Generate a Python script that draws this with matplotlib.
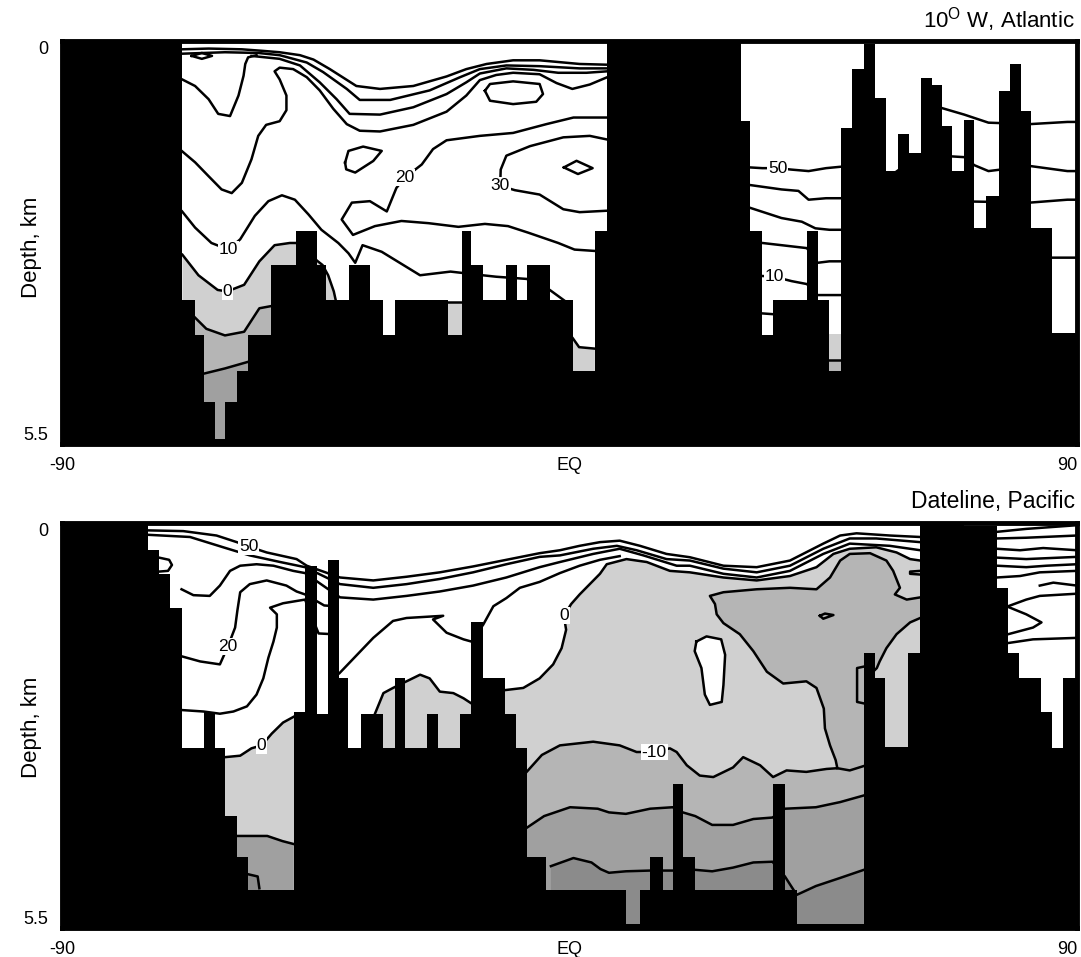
import matplotlib
matplotlib.use("Agg")
import matplotlib.pyplot as plt

plt.rcParams['font.family'] = ['Liberation Sans', 'DejaVu Sans']
plt.rcParams['mathtext.fontset'] = 'custom'
plt.rcParams['mathtext.rm'] = 'Liberation Sans'

# ---------------- 10 W, Atlantic ----------------
# sea floor (top of the black) as steps: edges in degrees latitude, depth in km
atl_edges = [-90, -68.65, -66.5, -64.8, -62.8, -61.1, -59.0, -57.0, -52.9, -48.5,
             -44.8, -43.1, -39.1, -35.4, -33.0, -31.0, -21.5, -19.1, -17.4, -15.4,
             -11.3, -9.3, -7.6, -3.5, 0.6, 4.5, 6.7, 30.5, 32.0, 34.2, 36.0, 42.1,
             44.0, 46.1, 48.2, 50.1, 52.2, 54.1, 56.2, 58.3, 60.2, 62.3, 64.2, 66.0,
             67.8, 70.0, 71.8, 73.9, 76.1, 78.2, 80.0, 81.9, 85.5, 90]
atl_floor = [0, 3.54, 4.02, 4.93, 5.43, 4.93, 4.50, 4.02, 3.06, 2.60,
             3.06, 3.54, 3.06, 3.54, 4.02, 3.54, 4.02, 2.60, 3.06, 3.54,
             3.06, 3.54, 3.06, 3.54, 4.50, 2.60, 0, 1.10, 2.60, 4.02, 3.54,
             2.60, 3.54, 4.50, 1.19, 0.39, 0.05, 0.78, 1.78, 1.28, 1.53, 0.51,
             0.60, 1.17, 1.78, 1.08, 2.56, 2.12, 0.69, 0.32, 0.96, 2.56, 3.99]

atl_s1 = [(-68.7, 0.12), (-64.0, 0.11), (-58.1, 0.12), (-54.6, 0.14), (-51.4, 0.16),
          (-47.8, 0.20), (-45.4, 0.26), (-42.5, 0.39), (-37.8, 0.62), (-33.6, 0.66),
          (-27.7, 0.62), (-21.8, 0.49), (-18.3, 0.39), (-14.7, 0.32), (-10.0, 0.27),
          (-5.3, 0.27), (1.8, 0.32), (6.7, 0.33)]
atl_s2 = [(-68.7, 0.18), (-61.1, 0.16), (-55.2, 0.17), (-51.4, 0.20), (-46.6, 0.30),
          (-43.7, 0.43), (-39.5, 0.66), (-37.2, 0.81), (-31.8, 0.81), (-24.8, 0.68),
          (-19.4, 0.50), (-15.9, 0.39), (-11.2, 0.34), (-5.3, 0.35), (1.8, 0.38), (6.7, 0.38)]
atl_s3 = [(-56.4, 0.21), (-51.4, 0.25), (-47.8, 0.34), (-44.3, 0.57), (-41.3, 0.80),
          (-39.0, 1.00), (-33.6, 1.01), (-27.7, 0.91), (-21.8, 0.73), (-18.3, 0.57),
          (-15.9, 0.45), (-11.2, 0.38), (-6.4, 0.40), (-2.0, 0.44), (3.0, 0.44), (6.7, 0.42)]
atl_d = [(-68.7, 1.51), (-66.4, 1.66), (-64.0, 1.85), (-61.7, 2.03), (-59.9, 2.08),
         (-58.1, 1.94), (-56.4, 1.62), (-55.2, 1.30), (-53.8, 1.15), (-51.4, 1.10),
         (-50.2, 0.95), (-50.2, 0.75), (-51.4, 0.53), (-52.3, 0.42), (-51.4, 0.37),
         (-49.0, 0.39), (-46.6, 0.50), (-44.3, 0.68), (-41.9, 0.93), (-39.5, 1.14),
         (-37.2, 1.23), (-33.6, 1.24), (-27.7, 1.15), (-21.8, 0.97), (-18.3, 0.75),
         (-15.9, 0.54), (-13.0, 0.47), (-10.0, 0.44), (-5.3, 0.46), (-2.3, 0.58),
         (0.5, 0.66), (3.6, 0.60), (6.7, 0.50)]
atl_v1 = [(-68.7, 0.53), (-66.4, 0.62), (-64.0, 0.80), (-62.3, 1.00), (-60.2, 1.03),
          (-58.7, 0.75), (-57.8, 0.48), (-57.5, 0.32), (-57.0, 0.23), (-55.5, 0.20)]
atl_loop_a = [(-67.0, 0.21), (-65.2, 0.17), (-63.4, 0.21), (-65.2, 0.25), (-67.0, 0.21)]
atl_loop_b = [(-15.0, 0.685), (-14.1, 0.593), (-10.0, 0.557), (-5.3, 0.593), (-4.7, 0.73),
              (-5.9, 0.835), (-10.0, 0.867), (-14.1, 0.821), (-15.0, 0.685)]
atl_loop_c = [(-39.8, 1.665), (-39.2, 1.505), (-36.6, 1.446), (-33.3, 1.505), (-34.8, 1.642),
              (-38.0, 1.80), (-39.6, 1.756), (-39.8, 1.665)]
atl_loop_d = [(-1.0, 1.73), (1.25, 1.64), (4.1, 1.74), (1.5, 1.82), (-1.0, 1.73)]
atl_c20 = [(6.7, 1.05), (0.7, 1.05), (-4.1, 1.14), (-10.0, 1.26), (-15.9, 1.30),
           (-21.8, 1.36), (-24.2, 1.48), (-26.2, 1.69), (-29.2, 1.87), (-30.7, 2.01),
           (-32.4, 2.33), (-35.4, 2.19), (-38.6, 2.21), (-40.4, 2.44), (-38.4, 2.65),
           (-34.5, 2.53), (-29.8, 2.46), (-25.0, 2.49), (-19.7, 2.54), (-15.0, 2.50),
           (-10.9, 2.53), (-7.3, 2.62), (-2.0, 2.76), (0.9, 2.85), (6.7, 2.88)]
atl_c30 = [(6.7, 1.35), (3.6, 1.30), (-1.1, 1.32), (-7.0, 1.44), (-11.2, 1.57),
           (-12.2, 1.76), (-12.3, 1.98), (-9.7, 2.04), (-5.3, 2.10), (-1.1, 2.30),
           (1.8, 2.34), (6.7, 2.32)]
atl_c10 = [(-68.7, 2.33), (-66.4, 2.55), (-63.5, 2.76), (-60.5, 2.85), (-58.4, 2.71),
           (-55.8, 2.39), (-53.4, 2.19), (-51.0, 2.11), (-48.7, 2.17), (-46.3, 2.37),
           (-44.0, 2.58), (-41.0, 2.76), (-39.2, 2.90), (-38.0, 3.03), (-36.7, 2.79),
           (-33.3, 2.88), (-26.5, 3.20), (-21.1, 3.15), (-15.4, 3.20), (-13.0, 3.22),
           (-7.6, 3.25), (-3.5, 3.40), (-1.0, 3.54)]
atl_c0 = [(-68.65, 2.92), (-65.8, 3.20), (-62.4, 3.40), (-60.7, 3.42), (-57.7, 3.33),
          (-55.0, 3.01), (-52.3, 2.79), (-49.6, 2.76), (-48.5, 2.76), (-46.5, 2.85),
          (-44.8, 3.00), (-43.8, 3.06), (-42.8, 3.20), (-41.8, 3.42), (-41.4, 3.56)]
atl_cm10 = [(-66.5, 3.77), (-64.4, 3.93), (-61.1, 4.02), (-57.7, 3.97), (-55.0, 3.65),
            (-53.6, 3.63), (-52.9, 3.62)]
atl_cm20 = [(-64.8, 4.54), (-61.1, 4.47), (-57.0, 4.38)]
atl_p1 = [(-21.5, 3.56), (-19.1, 3.56)]
atl_p2 = [(0.6, 4.06), (1.7, 4.18), (4.5, 4.20)]
atl_p3 = [(46.1, 4.00), (48.2, 4.00)]
atl_p3b = [(46.1, 4.35), (48.2, 4.35)]
# north of Africa
atl_n1 = [(64.0, 0.88), (66.0, 0.92), (70.0, 1.01), (74.3, 1.12), (81.6, 1.14), (88.3, 1.11), (90, 1.11)]
atl_c50 = [(32.0, 1.73), (34.2, 1.74), (36.9, 1.74), (39.4, 1.76), (42.4, 1.78), (45.5, 1.74),
           (48.2, 1.72), (57.0, 1.84), (61.0, 1.62), (67.8, 1.58), (70.0, 1.59), (71.8, 1.70),
           (74.3, 1.78), (81.6, 1.71), (88.3, 1.78), (90, 1.78)]
atl_n3 = [(32.0, 1.97), (37.6, 2.03), (40.6, 2.05), (42.4, 2.17), (45.5, 2.15), (48.2, 2.15),
          (60.0, 2.18), (75.0, 2.20), (81.6, 2.21), (88.3, 2.17), (90, 2.17)]
atl_n4 = [(32.0, 2.28), (37.6, 2.42), (41.2, 2.47), (43.6, 2.56), (46.1, 2.58), (48.2, 2.58),
          (60.0, 2.70), (80.0, 2.85), (85.5, 2.96), (90, 2.96)]
atl_n5 = [(34.2, 2.76), (37.6, 2.79), (42.1, 2.83), (44.0, 3.03), (46.1, 3.01), (48.2, 3.01)]
atl_c10n = [(34.2, 3.21), (36.3, 3.22), (39.4, 3.28), (42.1, 3.32), (44.0, 3.47), (48.2, 3.47)]
atl_n6 = [(34.2, 3.72), (36.0, 3.73)]

atl_labels = [("10", -60.5, 2.85), ("0", -60.7, 3.42), ("20", -29.2, 1.87),
              ("30", -12.3, 1.98), ("50", 36.9, 1.74), ("10", 36.3, 3.22)]

# ---------------- Dateline, Pacific ----------------
pac_edges = [-90, -74.8, -72.8, -70.9, -68.8, -64.8, -62.8, -61.1, -59.0, -57.0,
             -48.9, -46.9, -44.8, -42.9, -40.8, -39.2, -36.9, -33.0, -31.0, -29.2,
             -25.3, -23.3, -19.4, -17.4, -15.3, -11.5, -9.4, -7.6, -4.2, 10.0,
             12.5, 14.3, 16.5, 18.3, 20.1, 22.3, 36.0, 38.2, 40.3, 52.2,
             54.1, 55.9, 60.0, 62.2, 69.9, 75.8, 77.8, 79.8, 83.7, 85.5, 87.6, 90]
pac_floor = [0, 0.37, 0.69, 1.15, 3.06, 2.56, 3.06, 3.98, 4.53, 4.98,
             2.56, 0.58, 2.59, 0.50, 2.11, 3.06, 2.59, 3.06, 2.11, 3.06,
             2.59, 3.06, 2.59, 1.35, 2.11, 2.59, 3.06, 4.53, 4.98, 5.45,
             4.98, 4.53, 4.98, 3.54, 4.53, 4.98, 3.54, 4.98, 5.45, 1.76,
             2.11, 3.04, 1.76, 0, 0.04, 0.88, 1.76, 2.11, 2.56, 3.06, 2.11]

pac_c50 = [(-74.8, 0.10), (-68.5, 0.11), (-62.6, 0.17), (-59.0, 0.26), (-56.9, 0.32),
           (-53.7, 0.40), (-48.4, 0.49), (-46.6, 0.58), (-40.7, 0.74), (-34.8, 0.78),
           (-28.9, 0.73), (-23.0, 0.67), (-17.1, 0.59), (-11.2, 0.50), (-5.3, 0.41),
           (-1.7, 0.37), (1.8, 0.31), (5.4, 0.26), (8.9, 0.24), (12.5, 0.31), (17.2, 0.42),
           (21.35, 0.465), (27.3, 0.58), (33.2, 0.60), (39.1, 0.51), (45.0, 0.28),
           (48.0, 0.17), (50.9, 0.14), (56.8, 0.17), (62.2, 0.19)]
pac_b2 = [(-74.8, 0.16), (-67.3, 0.19), (-61.4, 0.33), (-56.7, 0.44), (-51.3, 0.53),
          (-46.9, 0.60), (-40.7, 0.83), (-34.8, 0.88), (-28.9, 0.83), (-23.0, 0.76),
          (-17.1, 0.67), (-11.2, 0.56), (-5.3, 0.46), (-1.7, 0.44), (4.2, 0.35),
          (8.4, 0.31), (11.9, 0.37), (17.2, 0.49), (21.35, 0.51), (27.3, 0.62),
          (33.2, 0.67), (39.1, 0.58), (45.0, 0.35), (49.7, 0.21), (54.4, 0.21), (62.2, 0.26)]
pac_b3 = [(-68.8, 0.90), (-66.7, 0.98), (-63.8, 0.99), (-62.0, 0.85), (-60.2, 0.65),
          (-58.4, 0.58), (-55.5, 0.56), (-52.5, 0.58), (-49.0, 0.65), (-46.9, 0.68),
          (-40.7, 1.01), (-34.8, 1.04), (-28.9, 0.99), (-23.0, 0.93), (-17.1, 0.85),
          (-11.2, 0.74), (-5.3, 0.60), (-1.7, 0.53), (4.2, 0.42), (8.9, 0.35),
          (13.1, 0.44), (19.0, 0.58), (21.35, 0.58), (27.3, 0.69), (33.2, 0.74),
          (39.1, 0.65), (45.0, 0.42), (49.7, 0.28), (56.8, 0.31), (62.2, 0.37)]
pac_bump = [(-72.8, 0.47), (-71.0, 0.50), (-70.5, 0.57), (-71.2, 0.65), (-72.8, 0.66)]
pac_c20 = [(-68.8, 1.81), (-65.5, 1.88), (-62.0, 1.92), (-60.6, 1.68), (-59.3, 1.42),
           (-58.9, 1.19), (-58.4, 0.94), (-56.7, 0.83), (-53.7, 0.78), (-50.2, 0.85),
           (-48.4, 0.93), (-46.9, 0.97), (-43.5, 1.12), (-41.5, 1.13)]
pac_d = [(-68.8, 2.54), (-64.9, 2.56), (-62.0, 2.59), (-59.6, 2.56), (-57.2, 2.49),
         (-55.5, 2.33), (-54.3, 2.11), (-53.4, 1.83), (-52.5, 1.61), (-51.9, 1.42),
         (-51.9, 1.24), (-53.1, 1.15), (-50.8, 1.09), (-46.9, 1.04), (-44.5, 1.50),
         (-42.0, 1.51)]
pac_e = [(-40.8, 2.04), (-37.8, 1.80), (-34.8, 1.56), (-31.3, 1.33), (-28.9, 1.29),
         (-22.4, 1.26), (-24.2, 1.31), (-21.8, 1.49), (-18.8, 1.58), (-17.4, 1.61),
         (-15.3, 1.38), (-13.5, 1.13), (-11.2, 1.02), (-8.8, 0.88), (-5.3, 0.80),
         (-1.7, 0.68), (1.8, 0.58), (5.4, 0.50), (8.9, 0.45)]
pac_c0a = [(-61.1, 3.18), (-58.4, 3.16), (-56.4, 3.06), (-54.6, 3.02), (-52.8, 2.86),
           (-50.8, 2.71), (-48.4, 2.61)]
pac_c0b = [(-34.5, 2.59), (-33.0, 2.31), (-31.3, 2.24), (-28.9, 2.15), (-26.5, 2.06),
           (-24.8, 2.11), (-23.0, 2.29), (-20.6, 2.31), (-18.8, 2.38), (-17.4, 2.45)]
pac_c0c = [(-11.5, 2.27), (-8.2, 2.24), (-5.3, 2.11), (-2.9, 1.92), (-1.4, 1.70),
           (-0.6, 1.45), (-1.0, 1.26), (0.3, 1.10), (1.8, 0.97), (3.6, 0.83), (5.4, 0.69),
           (6.6, 0.56), (10.1, 0.49), (13.7, 0.53), (17.8, 0.65), (21.35, 0.67),
           (27.3, 0.74), (33.2, 0.78), (39.1, 0.72), (43.8, 0.60), (46.8, 0.42),
           (49.7, 0.35), (54.4, 0.33), (58.0, 0.40), (60.4, 0.49), (62.2, 0.51)]
pac_cm10 = [(-7.6, 3.38), (-4.9, 3.15), (-1.7, 3.02), (4.2, 2.97), (8.9, 3.02),
            (11.9, 3.11), (15.0, 3.11), (17.8, 3.06), (19.0, 3.11), (20.8, 3.29),
            (23.1, 3.43), (25.5, 3.45), (29.0, 3.32), (30.8, 3.18), (33.8, 3.29),
            (36.1, 3.45), (38.5, 3.36), (42.0, 3.38), (45.6, 3.34), (47.5, 3.33),
            (49.7, 3.36), (52.2, 3.30)]
pac_v = [(47.5, 3.33), (47.2, 3.22), (46.2, 3.02), (45.3, 2.79), (45.1, 2.52),
         (43.8, 2.24), (42.0, 2.15), (37.9, 2.18), (35.0, 2.02), (32.6, 1.74),
         (30.2, 1.51), (27.3, 1.36), (26.1, 1.24), (25.8, 1.10), (24.9, 0.99),
         (27.3, 0.94), (33.2, 0.90), (39.1, 0.88), (43.8, 0.90), (46.2, 0.74),
         (48.0, 0.51), (49.7, 0.42), (53.3, 0.41), (56.2, 0.51), (57.4, 0.65),
         (58.6, 0.88), (57.7, 0.97), (59.8, 1.04), (62.2, 1.01)]
pac_vr = [(62.2, 1.29), (60.4, 1.35), (58.0, 1.51), (56.2, 1.70), (55.0, 1.88),
          (54.5, 1.97), (54.1, 2.00)]
pac_loop_w = [(22.5, 1.61), (24.3, 1.54), (26.9, 1.58), (27.6, 1.79), (27.3, 2.20),
              (27.0, 2.43), (24.9, 2.47), (24.0, 2.33), (23.4, 1.97), (22.2, 1.74), (22.5, 1.61)]
pac_loop_s = [(44.4, 1.26), (45.3, 1.23), (46.8, 1.25), (45.0, 1.30), (44.4, 1.26)]
pac_wall = [(62.2, 0.65), (60.4, 0.66), (60.4, 0.69), (62.2, 0.70)]
pac_gap = [(52.2, 1.95), (51.0, 1.97), (51.0, 2.43), (52.2, 2.45)]
pac_cm20a = [(-59.0, 4.25), (-53.6, 4.25), (-50.9, 4.32), (-48.9, 4.36)]
pac_cm20b = [(-7.6, 4.14), (-4.5, 3.98), (0.1, 3.86), (5.0, 3.88), (7.0, 3.93),
             (10.0, 3.95), (14.3, 3.88), (18.3, 3.86), (20.1, 3.93), (22.3, 3.98),
             (25.3, 4.10), (29.0, 4.10), (32.6, 4.02), (36.0, 4.00), (38.2, 3.88),
             (43.7, 3.86), (48.0, 3.79), (52.2, 3.70)]
pac_cm30a = [(-57.0, 4.77), (-55.3, 4.80), (-55.0, 4.96)]
pac_cm30b = [(-3.3, 4.66), (0.7, 4.55), (3.9, 4.61), (5.5, 4.70), (7.0, 4.75),
             (10.0, 4.73), (14.3, 4.72), (18.3, 4.72), (22.3, 4.71), (25.3, 4.73),
             (29.0, 4.68), (32.6, 4.61), (36.0, 4.60), (38.2, 4.80), (40.3, 5.05),
             (43.7, 4.93), (48.0, 4.82), (52.2, 4.71)]
# arctic side, north of the ridge
pac_a1 = [(75.8, 0.12), (81.0, 0.08), (90, 0.03)]
pac_a2 = [(75.8, 0.21), (81.0, 0.20), (90, 0.17)]
pac_a3 = [(75.8, 0.35), (79.9, 0.37), (84.0, 0.34), (90, 0.37)]
pac_a4 = [(75.8, 0.47), (81.0, 0.49), (90, 0.46)]
pac_a5 = [(75.8, 0.58), (81.0, 0.60), (84.6, 0.58), (90, 0.56)]
pac_a6 = [(75.8, 0.74), (79.9, 0.72), (83.4, 0.67), (90, 0.65)]
pac_a7 = [(83.4, 0.85), (85.8, 0.81), (90, 0.85)]
pac_a8 = [(77.8, 1.13), (81.0, 1.04), (83.4, 0.99), (90, 0.96)]
pac_a9 = [(77.8, 1.14), (81.0, 1.24), (83.7, 1.35), (82.2, 1.42), (77.8, 1.51)]
pac_a10 = [(77.8, 1.63), (82.2, 1.58), (90, 1.56)]

pac_labels = [("50", -56.9, 0.32), ("20", -60.6, 1.68), ("0", -54.6, 3.02),
              ("0", -1.0, 1.26), ("-10", 15.0, 3.11)]

BOTTOM = 5.5
LIGHT, MID, DARK, DARKER = '#d0d0d0', '#b5b5b5', '#a0a0a0', '#8b8b8b'


def line(ax, pts):
    x, y = zip(*pts)
    ax.plot(x, y, color='k', lw=1.8, solid_joinstyle='round', zorder=3)


def shade_below(ax, pts, color):
    poly = list(pts) + [(pts[-1][0], BOTTOM), (pts[0][0], BOTTOM)]
    x, y = zip(*poly)
    ax.fill(x, y, color=color, lw=0, zorder=1)


def setup(ax, edges, floor, labels):
    ax.stairs(floor, edges, baseline=BOTTOM, fill=True, color='k', zorder=4)
    ax.set_xlim(-90, 90)
    ax.set_ylim(BOTTOM, 0)
    ax.set_xticks([-90, 0, 90])
    ax.set_xticklabels(['-90', 'EQ', '90'])
    ax.set_yticks([0, BOTTOM])
    ax.set_yticklabels(['0', '5.5'])
    ax.tick_params(length=0, labelsize=13)
    ax.tick_params(axis='y', pad=10)
    ax.tick_params(axis='x', pad=9)
    ax.get_yticklabels()[0].set_va('top')
    ax.get_yticklabels()[1].set_va('bottom')
    ax.get_xticklabels()[2].set_ha('right')
    for sp in ax.spines.values():
        sp.set_linewidth(3.5)
        sp.set_zorder(6)
    for s, x, y in labels:
        ax.text(x, y, s, ha='center', va='center', fontsize=12.5, zorder=5,
                bbox=dict(boxstyle='square,pad=0.05', fc='white', ec='none'))


fig = plt.figure(figsize=(10.81, 9.57), dpi=100)
ax1 = fig.add_axes([62 / 1081, 1 - 444 / 957, 1015 / 1081, 403.5 / 957])
ax2 = fig.add_axes([62 / 1081, 1 - 928 / 957, 1015 / 1081, 405 / 957])

# Atlantic
for p in [atl_c0, atl_p1, atl_p2, atl_p3]:
    shade_below(ax1, p, LIGHT)
for p in [atl_cm10, atl_p3b]:
    shade_below(ax1, p, MID)
shade_below(ax1, atl_cm20, DARK)
for p in [atl_s1, atl_s2, atl_s3, atl_d, atl_v1, atl_loop_a, atl_loop_b, atl_loop_c,
          atl_loop_d, atl_c20, atl_c30, atl_c10, atl_c0, atl_cm10, atl_cm20,
          atl_p1, atl_p2, atl_p3b, atl_n1, atl_c50, atl_n3, atl_n4, atl_n5,
          atl_c10n, atl_n6]:
    line(ax1, p)
setup(ax1, atl_edges, atl_floor, atl_labels)

# Pacific
for p in [pac_c0a, pac_c0b, pac_c0c]:
    shade_below(ax2, p, LIGHT)
# the -10 region is bounded by the deep -10 line, the V and the branch at the ridge
upper = [q for q in pac_cm10 if q[0] <= 47.5] + pac_v[1:] + pac_vr
region = upper + [(pac_vr[-1][0], BOTTOM), (pac_cm10[0][0], BOTTOM)]
rx, ry = zip(*region)
ax2.fill(rx, ry, color=MID, lw=0, zorder=1)
for p in [pac_cm20a, pac_cm20b]:
    shade_below(ax2, p, DARK)
for p in [pac_cm30a, pac_cm30b]:
    shade_below(ax2, p, DARKER)
lx, ly = zip(*pac_loop_w)
ax2.fill(lx, ly, color='white', lw=0, zorder=2)
for p in [pac_c50, pac_b2, pac_b3, pac_bump, pac_c20, pac_d, pac_e, pac_c0a, pac_c0b,
          pac_c0c, pac_cm10, pac_v, pac_vr, pac_loop_w, pac_loop_s, pac_wall, pac_gap,
          pac_cm20a, pac_cm20b, pac_cm30a, pac_cm30b, pac_a1, pac_a2, pac_a3, pac_a4,
          pac_a5, pac_a6, pac_a7, pac_a8, pac_a9, pac_a10]:
    line(ax2, p)
setup(ax2, pac_edges, pac_floor, pac_labels)

fig.text(1075 / 1081, 1 - 27 / 957, r'10$^{\rm O}$ W, Atlantic', ha='right',
         va='baseline', fontsize=16)
fig.text(1075 / 1081, 1 - 508 / 957, 'Dateline, Pacific', ha='right',
         va='baseline', fontsize=16.5)
fig.text(31 / 1081, 1 - 247 / 957, 'Depth, km', rotation=90, ha='center',
         va='center', fontsize=16)
fig.text(31 / 1081, 1 - 727 / 957, 'Depth, km', rotation=90, ha='center',
         va='center', fontsize=16)

fig.savefig('out.png', dpi=100, facecolor='white')
